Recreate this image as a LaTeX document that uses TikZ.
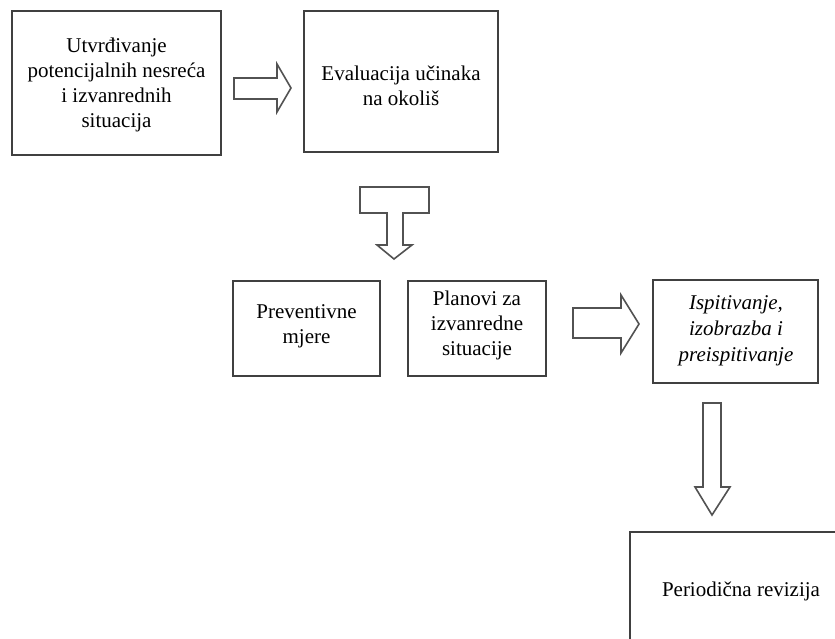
\documentclass[tikz,border=0pt]{standalone}
\usepackage{fontspec}
\setmainfont{Liberation Serif}
\begin{document}
\begin{tikzpicture}[x=1pt,y=-1pt,
  frame/.style={draw=black!75,line width=1.8pt},
  blockarrow/.style={draw=black!68,line width=1.6pt,line join=miter,fill=white},
  label/.style={align=center,inner sep=0pt,font=\fontsize{21}{25}\selectfont}]
\useasboundingbox (0,0) rectangle (835,638);

% boxes
\draw[frame] (12,11) rectangle (221,155);
\draw[frame] (304,11) rectangle (498,152);
\draw[frame] (233,281) rectangle (380,376);
\draw[frame] (408,281) rectangle (546,376);
\draw[frame] (653,280) rectangle (818,383);
\draw[frame] (630,532) rectangle (860,670);

% labels
\node[label] (ident) at (116.5,85) {Utvrđivanje\\potencijalnih nesreća\\i izvanrednih\\situacija};
\node[label] (eval) at (401,86) {Evaluacija učinaka\\na okoliš};
\node[label] (prev) at (306.5,326) {Preventivne\\mjere};
\node[label] (plan) at (477,325) {Planovi za\\izvanredne\\situacije};
\node[label,font=\fontsize{21}{26}\selectfont\itshape] (isp) at (736,331) {Ispitivanje,\\izobrazba i\\preispitivanje};
\node[label] (rev) at (741,591) {Periodična revizija};

% block arrows
\draw[blockarrow] (234,78) -- (277,78) -- (277,64) -- (291,88) -- (277,112)
  -- (277,99) -- (234,99) -- cycle;
\draw[blockarrow] (360,187) -- (429,187) -- (429,213) -- (403,213) -- (403,245)
  -- (412,245) -- (394,259) -- (377,245) -- (387,245) -- (387,213) -- (360,213) -- cycle;
\draw[blockarrow] (573,308) -- (621,308) -- (621,295) -- (639,324) -- (621,353)
  -- (621,338) -- (573,338) -- cycle;
\draw[blockarrow] (703,403) -- (721,403) -- (721,487) -- (730,487) -- (712,515)
  -- (695,487) -- (703,487) -- cycle;
\end{tikzpicture}
\end{document}
